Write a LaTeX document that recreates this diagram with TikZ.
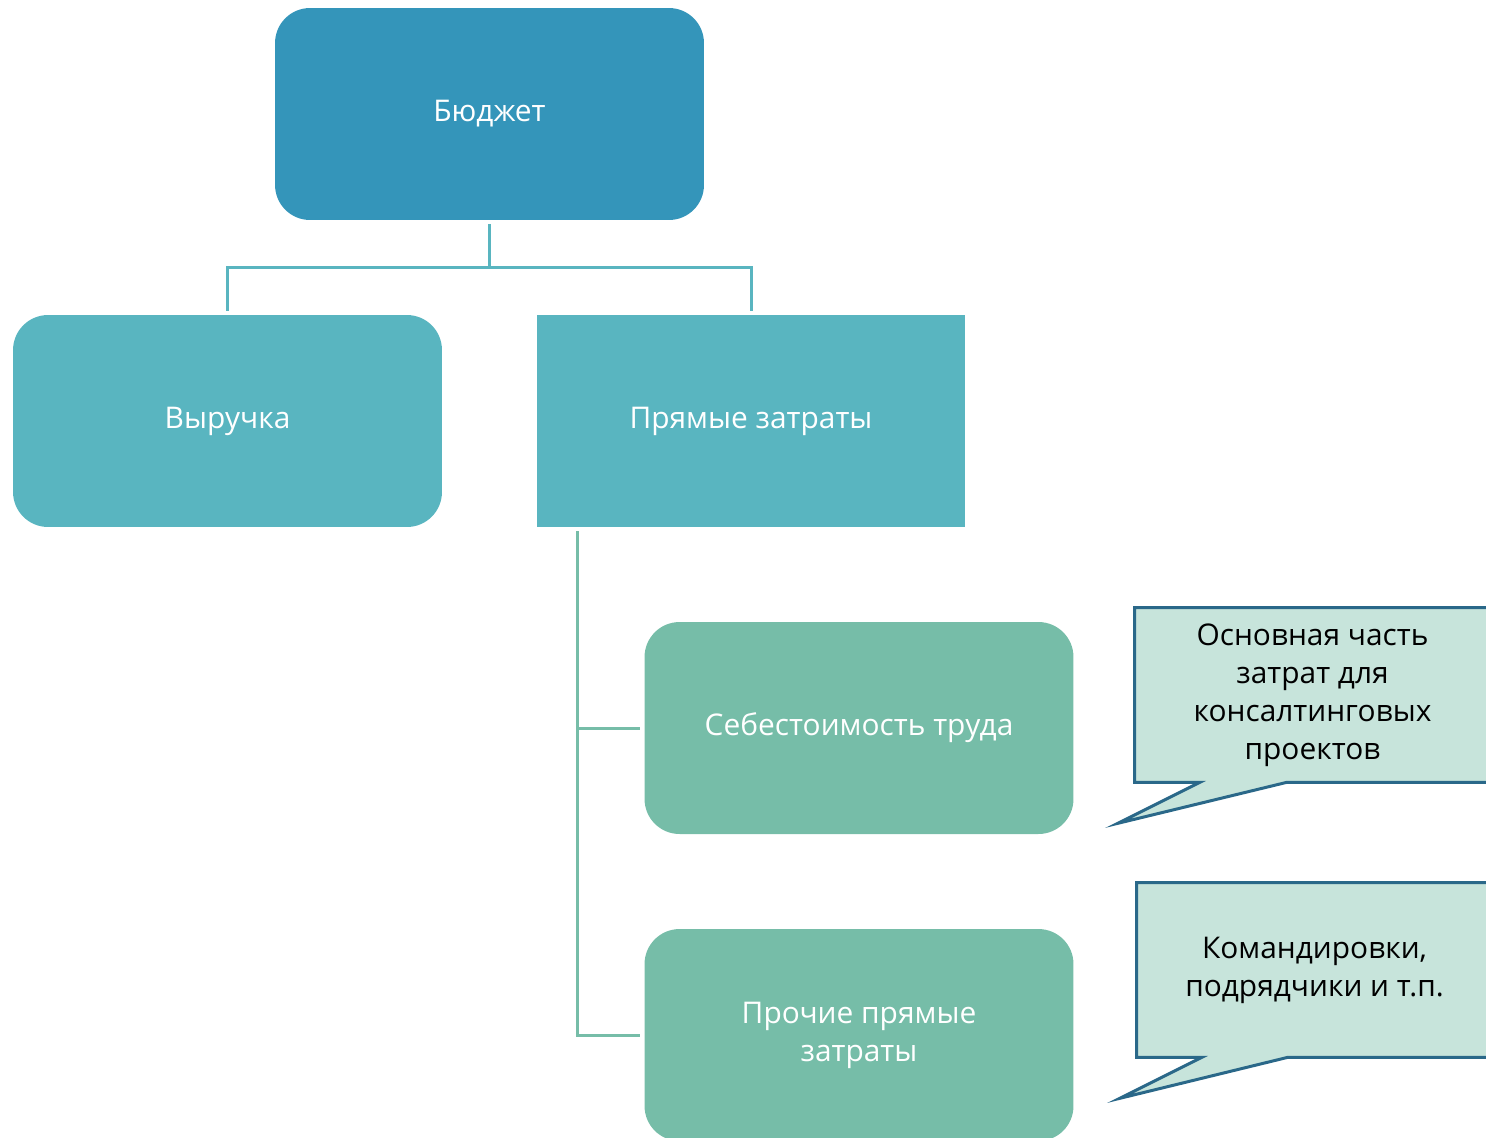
\documentclass[tikz,border=0pt]{standalone}
\usepackage{fontspec}
\setmainfont{Open Sans}
\usetikzlibrary{positioning,calc,backgrounds}

\definecolor{topblue}{RGB}{52,149,186}
\definecolor{midteal}{RGB}{89,181,192}
\definecolor{lowgreen}{RGB}{118,189,168}
\definecolor{notefill}{RGB}{199,228,219}
\definecolor{noteline}{RGB}{42,104,137}

\begin{document}
\begin{tikzpicture}[
  x=0.02cm, y=-0.02cm,
  font=\fontsize{17}{21.6}\selectfont,
  root/.style={rectangle, rounded corners=0.7cm, fill=topblue, text=white,
               minimum width=8.58cm, minimum height=4.24cm, align=center},
  branch/.style={rectangle, rounded corners=0.7cm, fill=midteal, text=white,
                 minimum width=8.58cm, minimum height=4.24cm, align=center},
  sqbranch/.style={rectangle, fill=midteal, text=white,
                   minimum width=8.58cm, minimum height=4.24cm, align=center},
  leaf/.style={rectangle, rounded corners=0.7cm, fill=lowgreen, text=white,
               minimum width=8.58cm, minimum height=4.24cm, align=center},
  note/.style={rectangle, text=black, minimum width=7.1cm, minimum height=3.48cm, align=center},
  noteedge/.style={draw=noteline, fill=notefill, line width=1.7pt, line join=miter},
  tie/.style={draw=midteal, line width=1.7pt, shorten <=0.08cm, shorten >=0.08cm},
  tielow/.style={draw=lowgreen, line width=1.7pt, shorten <=0.08cm, shorten >=0.08cm},
]
\clip (0,0) rectangle (1486,1137);

\node[root]     (budget)  at (489.5,114) {Бюджет};
\node[branch]   (revenue) at (227.5,421) {Выручка};
\node[sqbranch] (direct)  at (751,421)   {Прямые затраты};
\node[leaf]     (labor)   at (859,728)   {Себестоимость труда};
\node[leaf]     (other)   at (859,1035)  {Прочие прямые\\затраты};

\node[note] (note1) at (1312.5,695) {Основная часть\\затрат для\\консалтинговых\\проектов};
\node[note] (note2) at (1314.5,970) {Командировки,\\подрядчики и т.п.};

% connectors
\draw[tie] (budget.south) -- ++(0,47) -| (revenue.north);
\draw[tie] (budget.south) -- ++(0,47) -| (direct.north);
\draw[tielow] ($(direct.south west)+(41,0)$) |- (labor.west);
\draw[tielow] ($(direct.south west)+(41,0)$) |- (other.west);

% callout outlines
\begin{scope}[on background layer]
\draw[noteedge] (note1.south west) |- (note1.north east) |- ($(note1.south west)+(152,0)$)
  -- ($(note1.south west)+(-17,41)$) -- ($(note1.south west)+(65,0)$) -- cycle;
\draw[noteedge] (note2.south west) |- (note2.north east) |- ($(note2.south west)+(151,0)$)
  -- ($(note2.south west)+(-17,41)$) -- ($(note2.south west)+(65,0)$) -- cycle;
\end{scope}

\end{tikzpicture}
\end{document}
